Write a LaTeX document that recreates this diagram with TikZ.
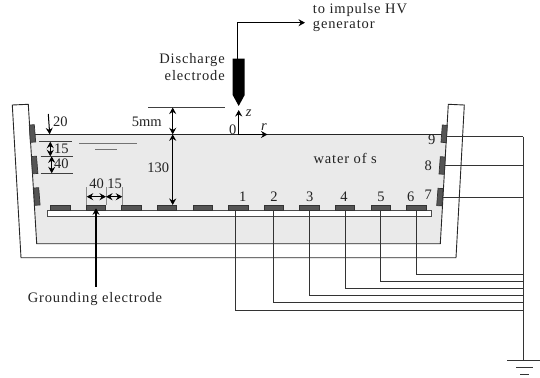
\documentclass[tikz,border=0pt]{standalone}
\usepackage{fontspec}
\setmainfont{Liberation Serif}
\usetikzlibrary{arrows.meta}
\definecolor{waterfill}{HTML}{EAEAEA}
\definecolor{padfill}{HTML}{555555}
\definecolor{inkgray}{HTML}{222222}
\tikzset{
	>={Stealth[length=6.5pt, width=7pt, inset=2.2pt]},
	wall/.style={line width=0.9pt, color=black!85},
	wire/.style={line width=0.9pt, color=black!80},
	pad/.style={fill=padfill, draw=black!80, line width=0.7pt},
	dim/.style={line width=1.1pt, <->},
	thin line/.style={line width=0.8pt, color=black!75},
	label/.style={font=\fontsize{14.5}{16}\selectfont, text=inkgray, inner sep=0pt},
	word/.style={label, font=\fontsize{14.5}{16}\selectfont\addfontfeatures{LetterSpace=6}}
}

\begin{document}
\begin{tikzpicture}[x=1pt, y=-1pt]
		%%%%% START %%%%%
		\useasboundingbox (0, 0) rectangle (540, 377);
		
		\fill[waterfill] (30, 134.3) -- (447, 134.3) -- (440.3, 243.7) -- (36.7, 243.7) -- cycle;
		\draw[wall] (30, 134.3) -- (447, 134.3);
		\draw[wall] (12.3, 105) -- (28.3, 104.3) -- (36.7, 243.7) -- (440.3, 243.7) -- (448.3, 104.3) -- (464.3, 105) -- (456, 257.7) -- (21, 257.7) -- cycle;
		
		\draw[line width=0.9pt, color=black!70, fill=white] (47, 210.7) rectangle (431, 216);
		
		% wires, ground
		\foreach \wx/\wy in {235/310.3, 273.7/302.7, 309.3/295.3, 345/288.3, 380.7/281, 416.3/274.3}
			\draw[wire] (\wx, 210) -- (\wx, \wy) -- (523.3, \wy);
		\foreach \wx/\wy in {445/136.7, 443/165.7, 441/197.7}
			\draw[wire] (\wx, \wy) -- (523.3, \wy);
		\draw[wire] (523.3, 136.7) -- (523.3, 360);
		\draw[wire] (507.3, 360) -- (540, 360);
		\draw[wire] (516, 367.5) -- (533, 367.5);
		\draw[wire] (520, 374) -- (529, 374);
		
		% pads
		\foreach \i in {0,...,10}
			\draw[pad] ({50.5+35.6*\i}, 205.3) rectangle ({70+35.6*\i}, 210.7);
		\foreach \px/\py in {29.3/125, 31.5/156.5, 33.7/188}
			\draw[pad] (\px, \py) -- (\px+5, \py-0.3) -- (\px+6.4, \py+17) -- (\px+1, \py+17.3) -- cycle;
		\foreach \px/\py in {442.3/125, 440.3/156.7, 438/188.3}
			\draw[pad] (\px, \py) -- (\px+5, \py+0.3) -- (\px+4, \py+17.6) -- (\px-1.3, \py+17.3) -- cycle;
		
		% discharge electrode
		\draw[line width=1.1pt, ->] (237.3, 58.7) -- (237.3, 22.7) -- (305, 22.7);
		\fill[black] (232.7, 58.7) -- (244.7, 58.7) -- (244.7, 95) -- (238.7, 106) -- (232.7, 95) -- cycle;
		\draw[line width=1.3pt, ->] (238.7, 134.5) -- (238.7, 110);
		\draw[line width=1.3pt, ->] (238.7, 134.5) -- (267.5, 134.5);
		
		% dimensions
		\draw[thin line] (148.3, 107.5) -- (225, 107.5);
		\draw[dim] (172.7, 107.5) -- (172.7, 134.3);
		\draw[dim] (172.7, 134.3) -- (172.7, 205);
		\draw[line width=1pt, ->] (48.3, 114) -- (49.7, 134.3);
		\draw[thin line] (39.3, 141.7) -- (72, 141.7);
		\draw[thin line] (40.7, 156.3) -- (73.3, 156.3);
		\draw[thin line] (40.7, 173.3) -- (73.3, 173.3);
		\draw[dim] (50.3, 141.7) -- (50.3, 156.3);
		\draw[dim] (51.7, 156.3) -- (51.7, 173.3);
		\draw[line width=1.2pt, color=black!55] (79, 143.7) -- (137, 143.7);
		\draw[line width=1pt, color=black!55] (95.3, 149) -- (116.7, 149);
		\foreach \tx in {86.7, 106, 122.3}
			\draw[line width=0.7pt, color=black!45] (\tx, 187.3) -- (\tx, 205);
		\draw[dim] (86.7, 196.7) -- (106, 196.7);
		\draw[dim] (106, 196.7) -- (122.3, 196.7);
		\draw[line width=1.1pt, ->] (96, 286.7) -- (96, 208.3);
		
		% labels
		\node[word, anchor=west] (impulse) at (312.7, 10.5) {to impulse HV};
		\node[word, anchor=west] (generator) at (312.7, 26) {generator};
		\node[word, anchor=east] (discharge) at (225, 60) {Discharge};
		\node[word, anchor=east] (electrode) at (225, 75.5) {electrode};
		\node[label] (zlabel) at (248.7, 113.3) {\textit{z}};
		\node[label] (rlabel) at (264, 126.7) {\textit{r}};
		\node[label] (origin) at (232.7, 130) {0};
		\node[label] (gap) at (146.7, 121.7) {5mm};
		\node[label] (depth) at (158.3, 167.3) {130};
		\node[label] (dtwenty) at (60.3, 121.7) {20};
		\node[label] (dfifteen) at (61.3, 148.3) {15};
		\node[label] (dforty) at (61.3, 164) {40};
		\node[label] (wforty) at (96.7, 183.7) {40};
		\node[label] (wfifteen) at (114.7, 183.7) {15};
		\node[word, anchor=east] (water) at (377, 158) {water of s};
		\node[word] (ground) at (95, 299) {Grounding electrode};
		\foreach \n/\nx in {1/242.7, 2/274, 3/309.7, 4/344, 5/381, 6/410.7}
			\node[label] (num\n) at (\nx, 196.7) {\n};
		\node[label] (num7) at (428.3, 194.3) {7};
		\node[label] (num8) at (428.3, 165.7) {8};
		\node[label] (num9) at (431.7, 140) {9};
		
		%%%%% END %%%%%
	\end{tikzpicture}
\end{document}
